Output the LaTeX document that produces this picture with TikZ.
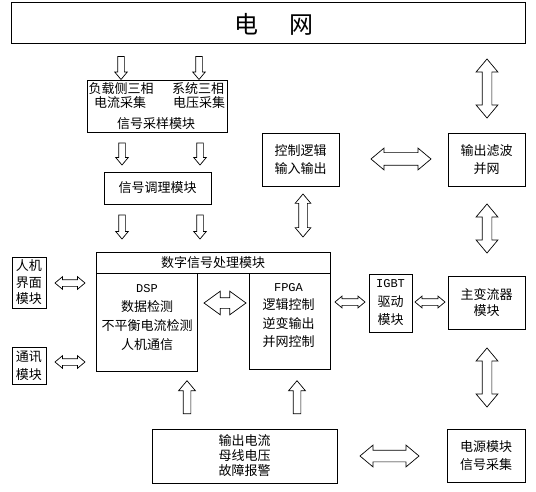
\documentclass[tikz,border=0pt]{standalone}
\usepackage{fontspec}
\newfontfamily\cjk{Noto Sans CJK SC}
\newfontfamily\latin{Liberation Mono}
\usetikzlibrary{shapes.arrows}
\tikzset{
  box/.style={draw,line width=0.7pt,inner sep=0pt,align=center,
    font=\cjk\fontsize{13}{#1}\selectfont},
  box/.default=18,
  txt/.style={inner sep=0pt,align=center,font=\cjk\fontsize{13}{#1}\selectfont},
  txt/.default=18,
  darr/.style 2 args={double arrow,draw,line width=0.7pt,fill=white,
    inner xsep=0pt,inner ysep=#1,minimum width=0pt,
    double arrow head extend=#2,double arrow tip angle=80},
  sarr/.style 2 args={single arrow,draw,line width=0.7pt,fill=white,
    inner xsep=0pt,inner ysep=#1,minimum width=0pt,
    single arrow head extend=#2,single arrow tip angle=80},
}
\newcommand{\lt}[1]{{\latin\fontsize{12}{13}\selectfont #1}}

\begin{document}
\begin{tikzpicture}[x=1pt,y=-1pt]
  \useasboundingbox (0,0) rectangle (536,492);

  % grid
  \node[box,minimum width=514pt,minimum height=41pt] (grid) at (268,22.5) {};
  \node[txt,font=\cjk\fontsize{24}{24}\selectfont] (gridtxt) at (274,24) {电\hspace{32pt}网};

  % signal sampling
  \node[box,minimum width=140pt,minimum height=52pt] (samp) at (157,106) {};
  \node[txt] (s1) at (121,89) {负载侧三相};
  \node[txt] (s2) at (198,89) {系统三相};
  \node[txt] (s3) at (120,103) {电流采集};
  \node[txt] (s4) at (199,103) {电压采集};
  \node[txt] (s5) at (156,124) {信号采样模块};

  \node[box,minimum width=107pt,minimum height=32pt] (cond) at (157.5,188) {信号调理模块};

  \node[box,minimum width=77pt,minimum height=53pt] (ctrl) at (300.5,159.5) {控制逻辑\\输入输出};
  \node[box,minimum width=77pt,minimum height=53pt] (filt) at (486.5,159.5) {输出滤波\\并网};

  % digital signal processing
  \node[box,minimum width=234pt,minimum height=21pt] (dsp) at (213,262.5) {数字信号处理模块};
  \node[box,minimum width=101pt,minimum height=98pt] (dspb) at (146.5,322) {};
  \node[txt=19] (dsptxt) at (147,317.5) {\lt{DSP}\\数据检测\\不平衡电流检测\\人机通信};
  \node[box,minimum width=81pt,minimum height=96pt] (fpga) at (289.5,321) {};
  \node[txt=18.5] (fpgatxt) at (288.5,315.5) {\lt{FPGA}\\逻辑控制\\逆变输出\\并网控制};

  \node[box=18.5,minimum width=43pt,minimum height=58pt] (igbt) at (390.5,303) {\lt{IGBT}\\驱动\\模块};
  \node[box=16,minimum width=77pt,minimum height=53pt] (conv) at (486.5,302.5) {主变流器\\模块};

  \node[box=16.5,minimum width=34pt,minimum height=51pt] (hmi) at (29,282.5) {人机\\界面\\模块};
  \node[box,minimum width=34pt,minimum height=37pt] (comm) at (29,365.5) {通讯\\模块};

  \node[box=15,minimum width=185pt,minimum height=54pt] (meas) at (244.5,456) {输出电流\\母线电压\\故障报警};
  \node[box,minimum width=78pt,minimum height=53pt] (pwr) at (486,455.5) {电源模块\\信号采集};

  % block arrows
  \node[sarr={3pt}{3pt},minimum height=23pt,rotate=-90] (g1) at (121,66) {};
  \node[sarr={3pt}{3pt},minimum height=23pt,rotate=-90] (g2) at (199,66) {};
  \node[sarr={3pt}{3pt},minimum height=22pt,rotate=-90] (c1) at (122,152) {};
  \node[sarr={3pt}{3pt},minimum height=22pt,rotate=-90] (c2) at (200,152) {};
  \node[sarr={3pt}{3pt},minimum height=24pt,rotate=-90] (d1) at (122,225) {};
  \node[sarr={3pt}{3pt},minimum height=24pt,rotate=-90] (d2) at (200,225) {};
  \node[sarr={3.5pt}{4.5pt},minimum height=33pt,rotate=90] (m1) at (187,399.5) {};
  \node[sarr={3.5pt}{4.5pt},minimum height=33pt,rotate=90] (m2) at (297,399.5) {};

  \node[darr={4.5pt}{6pt},minimum height=59pt,rotate=90] (r1) at (487,88.5) {};
  \node[darr={4.5pt}{6pt},minimum height=49pt,rotate=90] (r2) at (487,228.5) {};
  \node[darr={4.5pt}{6pt},minimum height=59pt,rotate=90] (r3) at (487,377.5) {};
  \node[darr={4pt}{3.5pt},minimum height=43pt,rotate=90] (cv) at (303,215.5) {};
  \node[darr={6pt}{4.5pt},minimum height=60pt] (ch) at (401,159) {};
  \node[darr={3pt}{3pt},minimum height=30pt] (h1) at (70,283) {};
  \node[darr={3pt}{3pt},minimum height=30pt] (h2) at (70,362) {};
  \node[darr={5pt}{6.5pt},minimum height=42pt,double arrow tip angle=72] (df) at (225,303) {};
  \node[darr={3pt}{2.5pt},minimum height=30pt] (fi) at (350,302) {};
  \node[darr={3pt}{2.5pt},minimum height=30pt] (ic) at (430,302) {};
  \node[darr={5.5pt}{5pt},minimum height=59pt] (mp) at (389.5,456) {};
\end{tikzpicture}
\end{document}
